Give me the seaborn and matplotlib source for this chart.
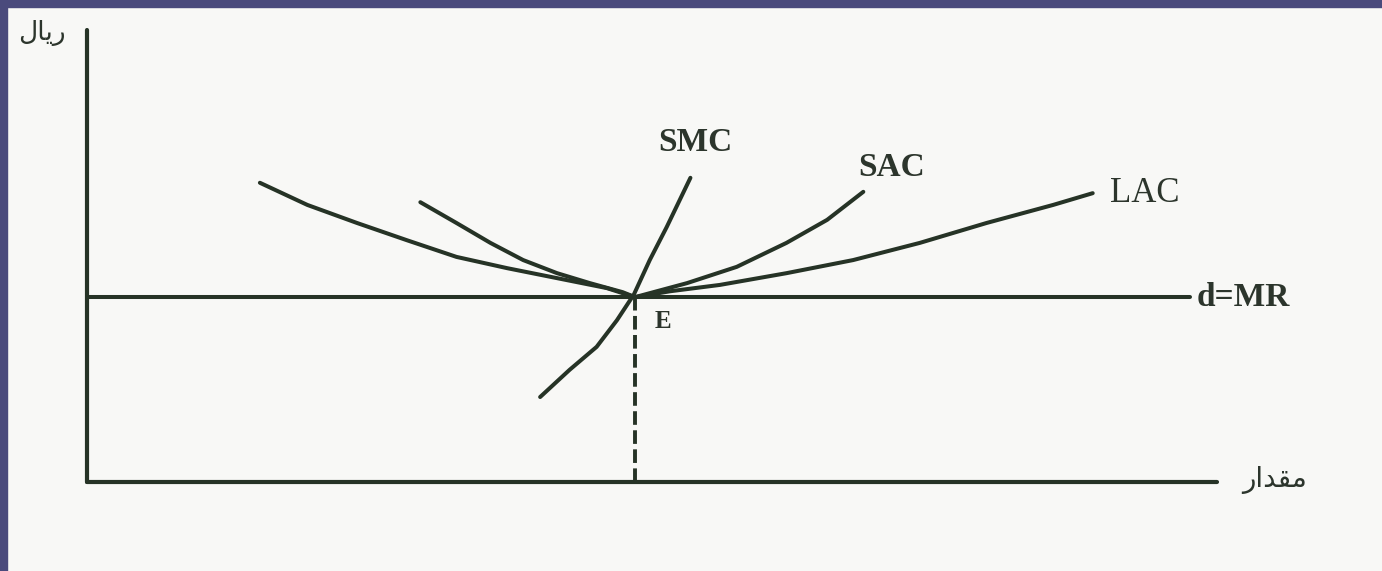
import matplotlib
matplotlib.use("Agg")
import matplotlib.pyplot as plt
from matplotlib.patches import Rectangle
import seaborn as sns
import pandas as pd

sns.set_theme(style="white")
plt.rcParams['font.family'] = ['DejaVu Sans']

# ---- data (quantity on x, rial on y) ----
mr_level = 4.09
e_quantity = 4.85

lac_x = [1.53, 1.95, 2.39, 2.83, 3.27, 3.72, 4.16, 4.60, 4.85, 5.16, 5.60, 6.19, 6.78, 7.37, 7.96, 8.55, 8.90]
lac_y = [6.62, 6.13, 5.73, 5.35, 4.98, 4.73, 4.51, 4.29, 4.09, 4.22, 4.36, 4.62, 4.91, 5.29, 5.73, 6.13, 6.39]

sac_x = [2.95, 3.27, 3.57, 3.86, 4.16, 4.45, 4.74, 4.85, 5.31, 5.75, 6.19, 6.55, 6.87]
sac_y = [6.19, 5.73, 5.29, 4.91, 4.62, 4.40, 4.20, 4.09, 4.40, 4.76, 5.29, 5.80, 6.42]

smc_x = [4.01, 4.27, 4.51, 4.69, 4.84, 4.98, 5.13, 5.34]
smc_y = [1.88, 2.48, 2.99, 3.58, 4.15, 4.91, 5.64, 6.73]

mr_x = [0.0, 9.76]
mr_y = [mr_level, mr_level]

curve_labels = ["SMC", "SAC", "LAC"]
mr_label = "d=MR"
e_label = "E"
y_label = "\uFEDD\uFE8E\uFEF3\uFEAD"          # ریال (shaped, visual order)
x_label = "\uFEAD\uFE8D\uFEAA\uFED8\uFEE3"    # مقدار (shaped, visual order)

ink = "#263326"
txt = "#2c352c"

df = pd.concat([
    pd.DataFrame({"q": lac_x, "p": lac_y, "curve": "LAC"}),
    pd.DataFrame({"q": sac_x, "p": sac_y, "curve": "SAC"}),
    pd.DataFrame({"q": smc_x, "p": smc_y, "curve": "SMC"}),
    pd.DataFrame({"q": mr_x, "p": mr_y, "curve": "MR"}),
], ignore_index=True)

W, H = 1382, 571
fig = plt.figure(figsize=(W / 100, H / 100), dpi=100)
fig.patch.set_facecolor("#f8f8f6")

ax = fig.add_axes([87 / W, (H - 482) / H, 1130 / W, 452 / H])
ax.set_facecolor("#f8f8f6")

sns.lineplot(data=df, x="q", y="p", units="curve", estimator=None, sort=False,
             color=ink, lw=2.9, ax=ax, legend=False)
for l in ax.lines:
    l.set_solid_capstyle("round")
    l.set_solid_joinstyle("round")

# dashed projection from E to the quantity axis
sns.lineplot(x=[e_quantity, e_quantity], y=[0.0, mr_level], color=ink, lw=2.8,
             ax=ax, estimator=None, sort=False, linestyle=(0, (3.5, 1.4)))

ax.set_xlim(0, 10)
ax.set_ylim(0, 10)
ax.set_xticks([])
ax.set_yticks([])
ax.set_xlabel("")
ax.set_ylabel("")
for s in ["top", "right"]:
    ax.spines[s].set_visible(False)
for s in ["left", "bottom"]:
    ax.spines[s].set_color(ink)
    ax.spines[s].set_linewidth(3)
    ax.spines[s].set_capstyle("round")

serif = dict(family="Liberation Serif", color=txt)
ax.text(5.38, 7.52, curve_labels[0], ha="center", va="center", fontsize=24, fontweight="bold", **serif)
ax.text(7.12, 6.95, curve_labels[1], ha="center", va="center", fontsize=24, fontweight="bold", **serif)
ax.text(9.05, 6.39, curve_labels[2], ha="left", va="center", fontsize=25, **serif)
ax.text(9.82, mr_level, mr_label, ha="left", va="center", fontsize=24, fontweight="bold",
        clip_on=False, **serif)
ax.text(5.10, 3.54, e_label, ha="center", va="center", fontsize=18, fontweight="bold", **serif)

ax.text(-0.40, 9.93, y_label, ha="center", va="center", fontsize=19, color=txt,
        family=["DejaVu Sans"], clip_on=False)
ax.text(10.22, 0.05, x_label, ha="left", va="center", fontsize=20, color=txt,
        family=["DejaVu Sans"], clip_on=False)

# purple slide frame
fig.add_artist(Rectangle((0, 1 - 7 / H), 1, 7 / H, transform=fig.transFigure,
                         color="#4a4a7c", zorder=10))
fig.add_artist(Rectangle((0, 0), 7 / W, 1, transform=fig.transFigure,
                         color="#4a4a7c", zorder=10))

fig.savefig("out.png", dpi=100, facecolor=fig.get_facecolor())
